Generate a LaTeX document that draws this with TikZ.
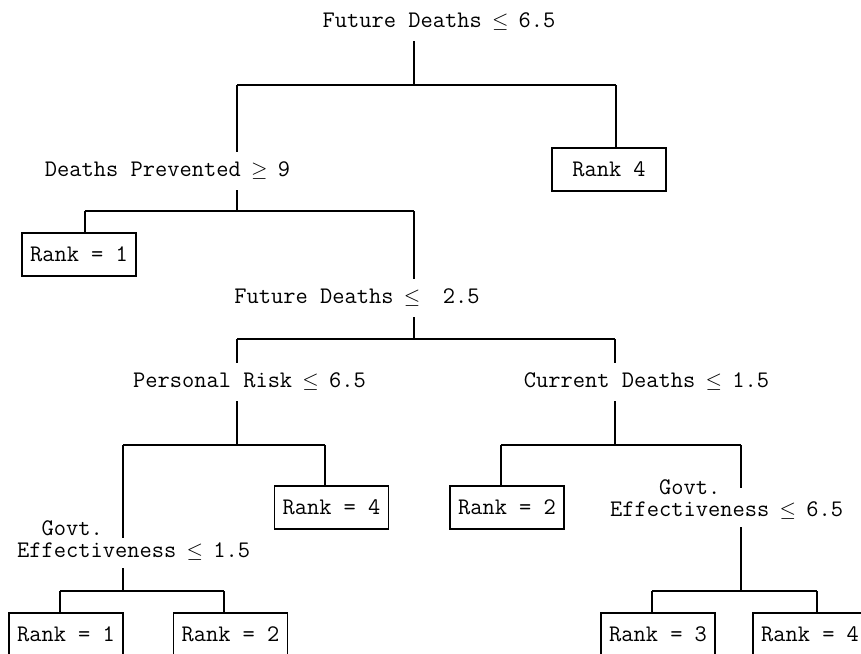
\documentclass[tikz,border=0pt]{standalone}
\usetikzlibrary{calc}
\newcommand{\tle}{\makebox[0.525em]{\scalebox{0.85}{$\leq$}}}
\newcommand{\tge}{\makebox[0.525em]{\scalebox{0.85}{$\geq$}}}
\begin{document}
\begin{tikzpicture}[x=1pt,y=-1pt,
  every node/.style={font=\ttfamily\fontsize{23.77}{22}\selectfont, inner sep=0pt},
  cond/.style={minimum height=38pt},
  twoline/.style={anchor=west, align=left, inner ysep=0pt},
  leaf/.style={draw, line width=1.1pt, minimum width=114pt, minimum height=43pt},
  link/.style={line width=1.1pt}]
\useasboundingbox (0,0) rectangle (861,653);
\fill[white] (0,0) rectangle (861,653);
\clip (0,0) rectangle (861,653);

% decision texts
\node[cond] (root) at (439,22) {Future Deaths \tle{} 6.5};
\node[cond] (dp) at (167.5,171) {Deaths Prevented \tge{} 9};
\node[cond] (fd2) at (357,298) {Future Deaths \tle{}~~2.5};
\node[cond] (pr) at (249.5,382) {Personal Risk \tle{} 6.5};
\node[cond] (cd) at (646.5,382) {Current Deaths \tle{} 1.5};
\node[twoline] (ge1) at (17,541) {\phantom{xx}Govt.\\Effectiveness \tle{} 1.5};
\node[twoline] (ge2) at (610,500) {\phantom{xxxx}Govt.\\Effectiveness \tle{} 6.5};

% leaves
\node[leaf] (rk4) at (609,169.5) {Rank 4};
\node[leaf] (r1a) at (79,254.5) {Rank = 1};
\node[leaf] (r4b) at (331.5,507.5) {Rank = 4};
\node[leaf] (r2a) at (507,507.5) {Rank = 2};
\node[leaf] (r1b) at (66,634.5) {Rank = 1};
\node[leaf] (r2b) at (230.5,634.5) {Rank = 2};
\node[leaf] (r3) at (658,634.5) {Rank = 3};
\node[leaf] (r4c) at (810,634.5) {Rank = 4};

% junction coordinates
\coordinate (j0) at (414,85);  \coordinate (L1) at (237,85);  \coordinate (R1) at (616,85);
\coordinate (j1) at (237,211); \coordinate (L2) at (85,211);  \coordinate (R2) at (414,211);
\coordinate (j2) at (414,339); \coordinate (L3) at (237,339); \coordinate (R3) at (615,339);
\coordinate (j3) at (237,445); \coordinate (L4) at (123,445); \coordinate (R4) at (325,445);
\coordinate (j4) at (123,591); \coordinate (L5) at (60,591);  \coordinate (R5) at (224,591);
\coordinate (j5) at (615,445); \coordinate (L6) at (501,445); \coordinate (R6) at (741,445);
\coordinate (j6) at (741,591); \coordinate (L7) at (652,591); \coordinate (R7) at (817,591);
\coordinate (g1in) at (123,538); \coordinate (g1out) at (123,568);
\coordinate (g2in) at (741,488); \coordinate (g2out) at (741,527);

% connectors
\draw[link] (root.south -| j0) -- (j0);
\draw[link] (L1) -- (R1);
\draw[link] (L1) -- (dp.north -| L1);
\draw[link] (R1) -- (rk4.north -| R1);

\draw[link] (dp.south -| j1) -- (j1);
\draw[link] (L2) -- (R2);
\draw[link] (L2) -- (r1a.north -| L2);
\draw[link] (R2) -- (fd2.north -| R2);

\draw[link] (fd2.south -| j2) -- (j2);
\draw[link] (L3) -- (R3);
\draw[link] (L3) -- (pr.north -| L3);
\draw[link] (R3) -- (cd.north -| R3);

\draw[link] (pr.south -| j3) -- (j3);
\draw[link] (L4) -- (R4);
\draw[link] (L4) -- (g1in);
\draw[link] (R4) -- (r4b.north -| R4);

\draw[link] (g1out) -- (j4);
\draw[link] (L5) -- (R5);
\draw[link] (L5) -- (r1b.north -| L5);
\draw[link] (R5) -- (r2b.north -| R5);

\draw[link] (cd.south -| j5) -- (j5);
\draw[link] (L6) -- (R6);
\draw[link] (L6) -- (r2a.north -| L6);
\draw[link] (R6) -- (g2in);

\draw[link] (g2out) -- (j6);
\draw[link] (L7) -- (R7);
\draw[link] (L7) -- (r3.north -| L7);
\draw[link] (R7) -- (r4c.north -| R7);
\end{tikzpicture}
\end{document}
